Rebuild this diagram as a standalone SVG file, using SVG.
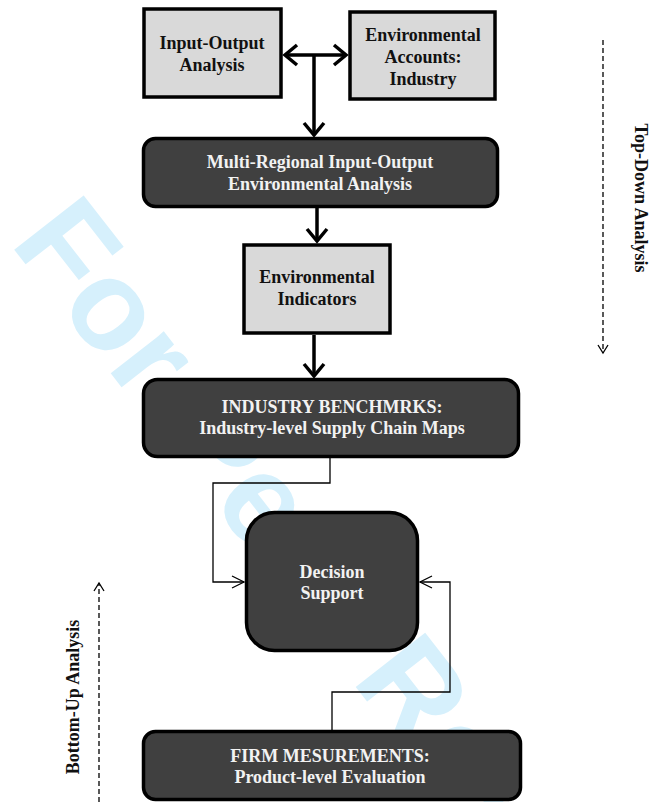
<svg xmlns="http://www.w3.org/2000/svg" width="652" height="802" viewBox="0 0 652 802">
<defs>
<style>
.light{fill:#d9d9d9;stroke:#000;stroke-width:3.5}
.dark{fill:#404040;stroke:#000;stroke-width:3.5}
.tl{font-family:"Liberation Serif","Times New Roman",serif;font-weight:bold;font-size:18px;fill:#111;text-anchor:middle}
.td{font-family:"Liberation Serif","Times New Roman",serif;font-weight:bold;font-size:18px;fill:#f2f2f2;text-anchor:middle}
.side{font-family:"Liberation Serif","Times New Roman",serif;font-weight:bold;font-size:18px;fill:#111;text-anchor:middle}
.thick{fill:none;stroke:#000;stroke-width:3.5}
.thin{fill:none;stroke:#000;stroke-width:1.3}
.dash{fill:none;stroke:#000;stroke-width:1.3;stroke-dasharray:5 3}
.wm{font-family:"Liberation Sans",Arial,sans-serif;font-weight:bold;font-size:128px;fill:#d6f0fc}
</style>
<marker id="ah" markerUnits="userSpaceOnUse" markerWidth="20" markerHeight="26" refX="15" refY="12" orient="auto-start-reverse">
<path d="M3,2 L15,12 L3,22" fill="none" stroke="#000" stroke-width="3.5"/>
</marker>
<marker id="at" markerUnits="userSpaceOnUse" markerWidth="16" markerHeight="16" refX="13" refY="7" orient="auto">
<path d="M1,1 L13,7 L1,13" fill="none" stroke="#000" stroke-width="1.3"/>
</marker>
<marker id="ad" markerUnits="userSpaceOnUse" markerWidth="12" markerHeight="14" refX="9" refY="6" orient="auto">
<path d="M1,1 L9,6 L1,11" fill="none" stroke="#000" stroke-width="1.3"/>
</marker>
</defs>
<rect width="652" height="802" fill="#fff"/>
<text class="wm" transform="translate(9,243) rotate(52)">For Peer Review</text>
<g id="connectors">
<line class="thick" x1="285" y1="55" x2="346" y2="55" marker-start="url(#ah)" marker-end="url(#ah)"/>
<line class="thick" x1="314" y1="55" x2="314" y2="135" marker-end="url(#ah)"/>
<line class="thick" x1="317" y1="208" x2="317" y2="241" marker-end="url(#ah)"/>
<line class="thick" x1="314" y1="335" x2="314" y2="376" marker-end="url(#ah)"/>
<polyline class="thin" points="330,458 330,483 213,483 213,582 244,582" marker-end="url(#at)"/>
<polyline class="thin" points="332,730 332,692 450,692 450,582 420,582" marker-end="url(#at)"/>
<line class="dash" x1="603" y1="40" x2="603" y2="353" marker-end="url(#ad)"/>
<line class="dash" x1="99" y1="802" x2="99" y2="583" marker-end="url(#ad)"/>
</g>
<g id="n-io">
<rect class="light" x="144" y="9" width="137" height="88"/>
<text class="tl" x="212" y="49">Input-Output</text>
<text class="tl" x="212" y="71">Analysis</text>
</g>
<g id="n-ea">
<rect class="light" x="350" y="12" width="145" height="87"/>
<text class="tl" x="423" y="41">Environmental</text>
<text class="tl" x="423" y="63">Accounts:</text>
<text class="tl" x="423" y="85">Industry</text>
</g>
<g id="n-mrio">
<rect class="dark" x="143.5" y="138.5" width="354" height="68" rx="12"/>
<text class="td" x="320" y="168">Multi-Regional Input-Output</text>
<text class="td" x="320" y="190">Environmental Analysis</text>
</g>
<g id="n-ei">
<rect class="light" x="244" y="245" width="146" height="88"/>
<text class="tl" x="317" y="283">Environmental</text>
<text class="tl" x="317" y="305">Indicators</text>
</g>
<g id="n-ib">
<rect class="dark" x="143.5" y="379.5" width="375" height="77" rx="14"/>
<text class="td" x="332" y="413">INDUSTRY BENCHMRKS:</text>
<text class="td" x="332" y="434">Industry-level Supply Chain Maps</text>
</g>
<g id="n-ds">
<rect class="dark" x="246.5" y="512.5" width="171" height="138" rx="28"/>
<text class="td" x="332" y="578">Decision</text>
<text class="td" x="332" y="599">Support</text>
</g>
<g id="n-fm">
<rect class="dark" x="143.5" y="731.5" width="377" height="68" rx="12"/>
<text class="td" x="330" y="762">FIRM MESUREMENTS:</text>
<text class="td" x="330" y="783">Product-level Evaluation</text>
</g>
<g id="labels">
<text class="side" transform="translate(635,198) rotate(90)">Top-Down Analysis</text>
<text class="side" transform="translate(79,697) rotate(-90)">Bottom-Up Analysis</text>
</g>
</svg>
